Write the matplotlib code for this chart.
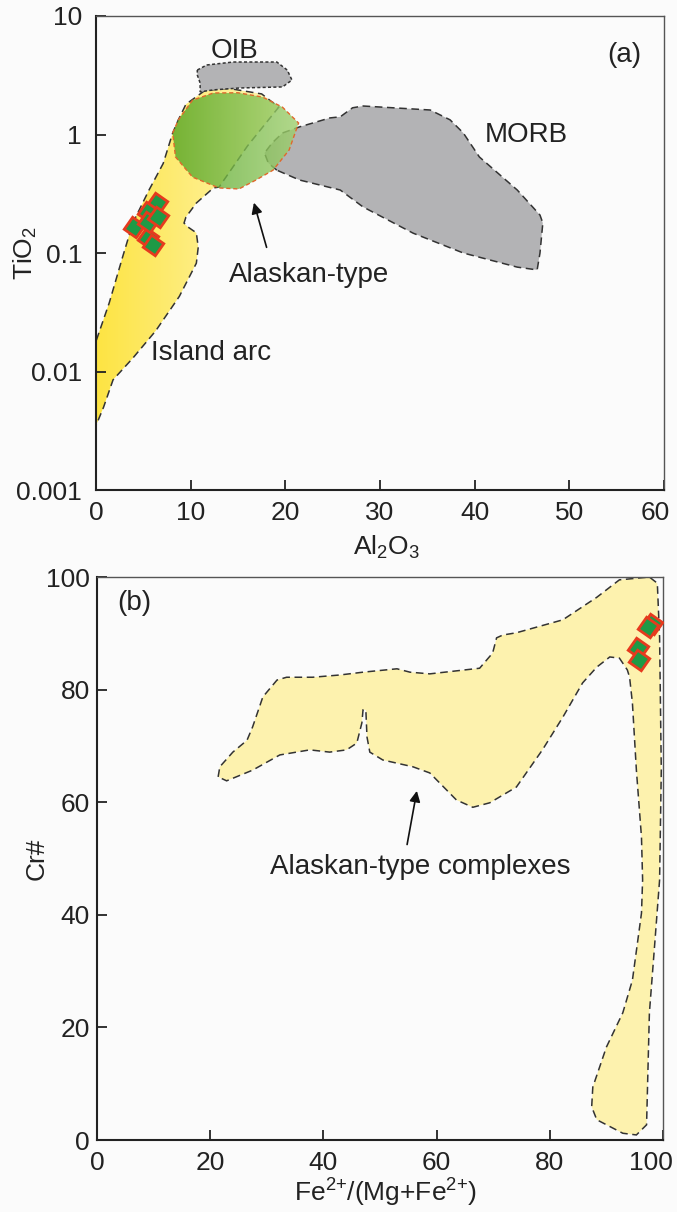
import numpy as np
import matplotlib
matplotlib.use('Agg')
import matplotlib.pyplot as plt
from matplotlib.patches import Polygon
from matplotlib.colors import LinearSegmentedColormap
from matplotlib.transforms import ScaledTranslation

plt.rcParams['font.family'] = ['Liberation Sans', 'DejaVu Sans']
plt.rcParams['mathtext.fontset'] = 'custom'
plt.rcParams['mathtext.rm'] = 'Liberation Sans'
plt.rcParams['mathtext.it'] = 'Liberation Sans:italic'

# ---- (a) Al2O3 vs TiO2 fields ----
arc_x = [0, 0, 1.4, 2.8, 3.9, 5.6, 7.1, 8.1, 8.7, 9.5, 11.5, 14.0, 17.5, 19.3, 16.0, 13.0,
         12.4, 10.6, 9.5, 9.3, 9.7, 10.6, 10.8, 10.6, 8.8, 6.3, 3.9, 1.8, 0.8, 0]
arc_y = [0.0035, 0.018, 0.038, 0.092, 0.18, 0.34, 0.57, 1.03, 1.33, 1.8, 2.35, 2.45, 2.2, 1.7, 0.8, 0.36,
         0.354, 0.264, 0.201, 0.179, 0.166, 0.148, 0.112, 0.082, 0.043, 0.022, 0.013, 0.0085, 0.005, 0.0035]

alk_x = [8.1, 8.7, 10.2, 12.4, 15.0, 17.6, 19.7, 21.4, 20.4, 18.7, 16.9, 15.1, 13.0, 10.2, 8.4]
alk_y = [1.03, 1.33, 1.95, 2.24, 2.25, 2.07, 1.70, 1.25, 0.74, 0.50, 0.413, 0.347, 0.354, 0.437, 0.646]

morb_x = [19.1, 18.2, 17.8, 18.6, 19.7, 21.5, 22.9, 24.7, 25.8, 27.1, 28.2, 35.3, 37.4, 38.8, 40.5,
          44.5, 46.9, 47.2, 46.9, 46.6, 44.5, 38.8, 33.5, 28.2, 25.8, 21.5]
morb_y = [0.50, 0.574, 0.698, 0.847, 1.03, 1.16, 1.25, 1.38, 1.41, 1.68, 1.74, 1.61, 1.33, 1.03, 0.646,
          0.34, 0.209, 0.179, 0.10, 0.072, 0.076, 0.10, 0.147, 0.245, 0.34, 0.413]

oib_x = [10.7, 11.7, 14.5, 19.1, 20.2, 20.7, 19.7, 15.2, 12.4, 11.0, 11.0, 10.7]
oib_y = [3.50, 3.86, 4.09, 4.09, 3.50, 2.88, 2.52, 2.47, 2.38, 2.29, 2.72, 3.18]

sample_al = [6.4, 5.5, 4.0, 5.5, 6.0, 5.5, 6.5]
sample_ti = [0.264, 0.222, 0.166, 0.134, 0.117, 0.183, 0.201]

# ---- (b) Fe2+/(Mg+Fe2+) vs Cr# field ----
ak_x = [21.4, 21.7, 24.0, 26.5, 27.5, 29.3, 31.8, 33.5, 38.1, 42.9, 47.0, 53.0, 55.3, 58.8, 67.6,
        69.9, 70.6, 71.7, 74.1, 82.3, 88.3, 92.3, 97.6, 99.0, 99.4, 99.7, 99.4, 98.5, 97.6, 97.3,
        97.1, 95.3, 92.9, 88.3, 87.4, 87.6, 90.0, 92.9, 94.6, 96.2, 96.4, 96.2, 95.3, 94.6, 94.1,
        93.7, 92.3, 90.6, 88.3, 85.8, 82.3, 78.7, 74.1, 69.4, 66.4, 63.5, 58.8, 55.8, 50.5, 48.2,
        47.7, 47.5, 47.0, 46.8, 45.9, 44.1, 41.1, 37.6, 32.3, 27.5, 22.9]
ak_y = [64.5, 66.3, 68.9, 71.0, 73.4, 78.7, 81.7, 82.2, 82.2, 82.6, 83.1, 83.7, 83.1, 82.8, 83.8,
        86.5, 89.2, 89.7, 90.1, 92.4, 96.4, 99.5, 100.0, 98.9, 89.3, 65.7, 46.2, 34.3, 22.6, 10.7,
        2.7, 0.9, 1.2, 3.6, 5.9, 9.4, 16.5, 22.6, 28.4, 40.3, 46.2, 53.8, 65.7, 77.6, 82.2,
        83.5, 85.6, 85.8, 84.0, 81.2, 75.1, 69.3, 62.7, 59.9, 59.1, 60.4, 65.2, 66.3, 67.5, 68.9,
        71.6, 76.4, 76.4, 74.1, 70.5, 69.3, 68.9, 69.3, 68.4, 65.7, 63.8]

sample_fe = [98.0, 97.3, 95.5, 95.7]
sample_cr = [91.6, 91.1, 87.4, 85.3]

bg = '#fbfbfb'
ink = '#222222'
dash = (0, (5, 3))
fs_tick = 19
fs_text = 20


def grad_fill(ax, xs, ys, c0, c1, alpha=1.0, z=1):
    clip = Polygon(np.column_stack([xs, ys]), closed=True, fc='none', ec='none')
    ax.add_patch(clip)
    cmap = LinearSegmentedColormap.from_list('fill', [c0, c1])
    g = np.linspace(0, 1, 256).reshape(1, -1)
    im = ax.imshow(g, cmap=cmap, extent=(min(xs), max(xs), min(ys), max(ys)),
                   aspect='auto', alpha=alpha, zorder=z, interpolation='bilinear')
    im.set_clip_path(clip)


def outline(ax, xs, ys, color='#333333', ls=dash, lw=1.1, z=3, fc='none'):
    ax.add_patch(Polygon(np.column_stack([xs, ys]), closed=True, fc=fc,
                         ec=color, ls=ls, lw=lw, zorder=z))


def style(ax, ypad):
    for s in ['left', 'bottom']:
        ax.spines[s].set_linewidth(1.5)
        ax.spines[s].set_color(ink)
    for s in ['top', 'right']:
        ax.spines[s].set_linewidth(1.0)
        ax.spines[s].set_color('#555555')
    ax.tick_params(direction='in', length=7, width=1.3, color=ink, labelsize=fs_tick,
                   labelcolor=ink, top=False, right=False)
    ax.tick_params(axis='x', pad=8)
    ax.tick_params(axis='y', pad=ypad)
    ax.set_facecolor(bg)


def nudge_last_xlabel(ax, dx_px):
    lab = ax.get_xticklabels()[-1]
    lab.set_transform(lab.get_transform() + ScaledTranslation(dx_px / 100, 0, fig.dpi_scale_trans))


fig = plt.figure(figsize=(6.77, 12.12), dpi=100, facecolor=bg)

# panel (a)
ax1 = fig.add_axes([0.1418, 0.5957, 0.839, 0.3911])
ax1.set_yscale('log')
ax1.set_xlim(0, 60)
ax1.set_ylim(0.001, 10)

grad_fill(ax1, arc_x, arc_y, '#fde443', '#fff5b4', z=1)
outline(ax1, arc_x, arc_y, z=2)
ax1.add_patch(Polygon(np.column_stack([morb_x, morb_y]), closed=True, fc='#b3b3b5',
                      ec='#333333', ls=dash, lw=1.1, zorder=2))
ax1.add_patch(Polygon(np.column_stack([oib_x, oib_y]), closed=True, fc='#b3b3b5',
                      ec='#333333', ls=(0, (2, 1.5)), lw=1.1, zorder=2))
grad_fill(ax1, alk_x, alk_y, '#55a626', '#a0d070', alpha=0.8, z=4)
outline(ax1, alk_x, alk_y, color='#e0682c', ls=(0, (3, 2)), lw=1.0, z=5)

ax1.plot(sample_al, sample_ti, ls='none', marker=(4, 0, 10), ms=15, mfc='#1e9a46',
         mec='#e63a1e', mew=2.0, zorder=6)

ax1.set_xticks([0, 10, 20, 30, 40, 50, 60])
ax1.set_yticks([0.001, 0.01, 0.1, 1, 10])
ax1.set_yticklabels(['0.001', '0.01', '0.1', '1', '10'])
ax1.minorticks_off()
style(ax1, 10)
nudge_last_xlabel(ax1, -9)
ax1.set_xlabel(r'Al$_2$O$_3$', fontsize=fs_tick, color=ink)
ax1.set_ylabel(r'TiO$_2$', fontsize=fs_tick, color=ink)
ax1.xaxis.set_label_coords(0.512, -0.092)
ax1.yaxis.set_label_coords(-0.1, 0.5)

ax1.text(14.6, 5.1, 'OIB', fontsize=fs_text, color=ink, ha='center', va='center')
ax1.text(45.5, 0.99, 'MORB', fontsize=fs_text, color=ink, ha='center', va='center')
ax1.text(55.8, 4.7, '(a)', fontsize=fs_text, color=ink, ha='center', va='center')
ax1.text(5.8, 0.0143, 'Island arc', fontsize=fs_text, color=ink, ha='left', va='center')
ax1.text(14.0, 0.065, 'Alaskan-type', fontsize=fs_text, color=ink, ha='left', va='center')
ax1.annotate('', xy=(16.6, 0.28), xytext=(18.1, 0.106),
             arrowprops=dict(arrowstyle='-|>', color='#111111', lw=1.2, mutation_scale=16))

# panel (b)
ax2 = fig.add_axes([0.1433, 0.0594, 0.836, 0.4645])
ax2.set_xlim(0, 100)
ax2.set_ylim(0, 100)
outline(ax2, ak_x, ak_y, fc='#fdf2ae', z=2)
ax2.plot(sample_fe, sample_cr, ls='none', marker=(4, 0, 10), ms=15, mfc='#1e9a46',
         mec='#e63a1e', mew=2.0, zorder=6)
ax2.set_xticks([0, 20, 40, 60, 80, 100])
ax2.set_yticks([0, 20, 40, 60, 80, 100])
style(ax2, 5)
nudge_last_xlabel(ax2, -12)
ax2.set_xlabel(r'Fe$^{2{+}}$/(Mg+Fe$^{2{+}}$)', fontsize=fs_tick, color=ink)
ax2.set_ylabel('Cr#', fontsize=fs_tick, color=ink)
ax2.xaxis.set_label_coords(0.509, -0.066)
ax2.yaxis.set_label_coords(-0.085, 0.5)

ax2.text(3.5, 95.4, '(b)', fontsize=fs_text, color=ink, ha='left', va='center')
ax2.text(30.5, 48.5, 'Alaskan-type complexes', fontsize=fs_text, color=ink, ha='left', va='center')
ax2.annotate('', xy=(56.6, 62.5), xytext=(54.7, 52.0),
             arrowprops=dict(arrowstyle='-|>', color='#111111', lw=1.2, mutation_scale=16))

fig.savefig('out.png', dpi=100, facecolor=bg)
